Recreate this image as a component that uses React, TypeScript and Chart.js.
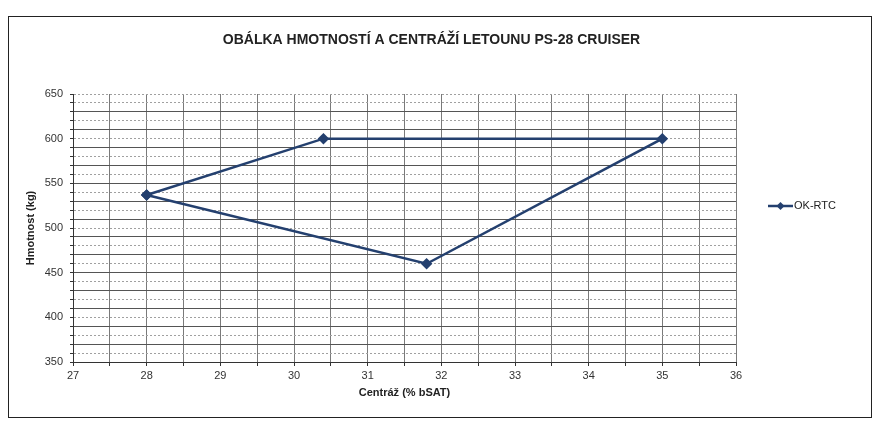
import React, { useEffect, useRef } from 'react';
import { Chart, registerables } from 'chart.js';

Chart.register(...registerables);

// ---- data ----
const centrageValues = [28, 30.4, 35, 31.8, 28];
const weightValues = [537, 600, 600, 460, 537];
const seriesLabel = 'OK-RTC';
const chartTitle = 'OBÁLKA HMOTNOSTÍ A CENTRÁŽÍ LETOUNU PS-28 CRUISER';
const xAxisTitle = 'Centráž (% bSAT)';
const yAxisTitle = 'Hmotnost (kg)';
const xRange = [27, 36];
const xStep = 0.5;
const yRange = [350, 650];
const yStep = 10;
const yLabelStep = 50;

const FONT = '"Liberation Sans", Arial, sans-serif';
const LINE_COLOR = '#24406f';

const legendPlugin = {
  id: 'excelLegend',
  afterDraw(chart: any) {
    const ctx = chart.ctx;
    const area = chart.chartArea;
    const ds = chart.data.datasets[0];
    const x0 = area.right + 32;
    const x1 = x0 + 25;
    const y = area.top + 112;
    ctx.save();
    ctx.strokeStyle = LINE_COLOR;
    ctx.lineWidth = 2.5;
    ctx.beginPath();
    ctx.moveTo(x0, y);
    ctx.lineTo(x1, y);
    ctx.stroke();
    const cx = (x0 + x1) / 2;
    const r = 4;
    ctx.fillStyle = LINE_COLOR;
    ctx.beginPath();
    ctx.moveTo(cx, y - r);
    ctx.lineTo(cx + r, y);
    ctx.lineTo(cx, y + r);
    ctx.lineTo(cx - r, y);
    ctx.closePath();
    ctx.fill();
    ctx.fillStyle = '#222';
    ctx.font = `11px ${FONT}`;
    ctx.textBaseline = 'middle';
    ctx.textAlign = 'left';
    ctx.fillText(ds.label, x1 + 1, y);
    ctx.restore();
  },
};

export default function App() {
  const canvasRef = useRef<HTMLCanvasElement | null>(null);

  useEffect(() => {
    if (!canvasRef.current) return;
    const points = centrageValues.map((x, i) => ({ x, y: weightValues[i] }));
    const chart = new Chart(canvasRef.current, {
      type: 'scatter',
      data: {
        datasets: [
          {
            label: seriesLabel,
            data: points,
            showLine: true,
            borderColor: LINE_COLOR,
            backgroundColor: LINE_COLOR,
            borderWidth: 2.5,
            pointStyle: 'rectRot',
            pointRadius: 4,
            pointHoverRadius: 4,
            xAxisID: 'x',
            yAxisID: 'y',
          },
        ],
      },
      options: {
        animation: false,
        responsive: true,
        maintainAspectRatio: false,
        layout: { padding: { left: 8, right: 25, top: 0, bottom: 17 } },
        plugins: {
          legend: { display: false },
          tooltip: { enabled: false },
          title: {
            display: true,
            text: chartTitle,
            color: '#222',
            font: { family: FONT, size: 14, weight: 'bold', lineHeight: 1.2 },
            padding: { top: 14.6, bottom: 45.6 },
          },
        },
        scales: {
          x: {
            type: 'linear',
            position: 'bottom',
            min: xRange[0],
            max: xRange[1],
            afterFit: (s: any) => {
              s.height = 38;
            },
            ticks: {
              stepSize: xStep,
              autoSkip: false,
              maxRotation: 0,
              padding: 3,
              color: '#333',
              font: { family: FONT, size: 11 },
              callback: (v: any) => (Number.isInteger(Number(v)) ? String(v) : ''),
            },
            grid: {
              color: '#7a7a7a',
              lineWidth: 1,
              tickLength: 4,
              tickColor: '#333',
            },
            border: { display: true, color: '#333', width: 1 },
            title: {
              display: true,
              text: xAxisTitle,
              color: '#222',
              font: { family: FONT, size: 11, weight: 'bold', lineHeight: 1.2 },
              padding: { top: 2, bottom: 0 },
            },
          },
          y: {
            type: 'linear',
            position: 'left',
            min: yRange[0],
            max: yRange[1],
            afterFit: (s: any) => {
              s.width = 56;
            },
            ticks: {
              stepSize: yStep,
              autoSkip: false,
              padding: 7,
              color: '#333',
              font: { family: FONT, size: 11 },
              callback: (v: any) => (Number(v) % yLabelStep === 0 ? String(v) : ''),
            },
            grid: {
              color: (ctx: any) => {
                const v = ctx.tick ? ctx.tick.value : 0;
                return v % 20 === 10 && v !== yRange[1] ? '#555' : '#a0a0a0';
              },
              lineWidth: 1,
              tickLength: 3,
              tickColor: '#333',
            },
            border: {
              display: true,
              color: '#333',
              width: 1,
              dash: (ctx: any) => {
                const v = ctx.tick ? ctx.tick.value : 0;
                return v % 20 === 10 && v !== yRange[1] ? [] : [2, 2];
              },
            },
            title: {
              display: true,
              text: yAxisTitle,
              color: '#222',
              font: { family: FONT, size: 11, weight: 'bold', lineHeight: 1.2 },
              padding: { top: 7, bottom: 0 },
            },
          },
          legendSpace: {
            type: 'linear',
            position: 'right',
            display: true,
            afterFit: (s: any) => {
              s.width = 110;
            },
            ticks: { display: false },
            grid: { display: false, drawOnChartArea: false, drawTicks: false },
            border: { display: false },
          },
        },
      },
      plugins: [legendPlugin],
    } as any);
    return () => chart.destroy();
  }, []);

  return (
    <div
      style={{
        position: 'absolute',
        left: 8,
        top: 16,
        width: 864,
        height: 402,
        boxSizing: 'border-box',
        border: '1px solid #222',
        background: '#fff',
      }}
    >
      <div style={{ position: 'relative', width: 862, height: 400 }}>
        <canvas ref={canvasRef} />
      </div>
    </div>
  );
}
